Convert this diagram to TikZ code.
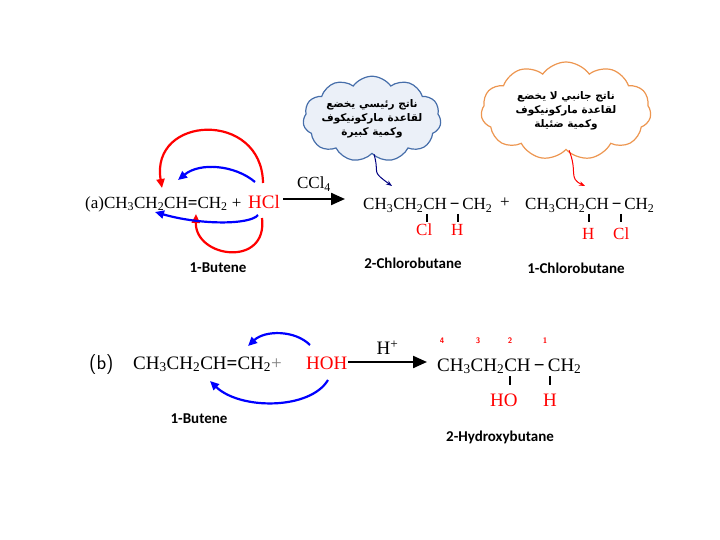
\documentclass[tikz,border=0pt]{standalone}
\usepackage{fontspec}
\setmainfont{Liberation Serif}
\newfontfamily\lblfont{Carlito}
\newfontfamily\arabicfont[Script=Arabic]{DejaVu Sans}
\TeXXeTstate=1
\usetikzlibrary{shapes.symbols,arrows.meta}
\begin{document}
\begin{tikzpicture}[x=1pt,y=-1pt,
  chem/.style={font=\fontsize{19}{19}\selectfont, inner sep=0pt, anchor=base west},
  lbl/.style={font=\lblfont\bfseries\fontsize{15}{15}\selectfont},
  redt/.style={text=red},
  cloudbox/.style={cloud, cloud puffs=11, cloud puff arc=110, aspect=1.9, line width=1.2pt, inner sep=-4pt,
     font=\arabicfont\bfseries\fontsize{10.5}{14}\selectfont, align=center},
  curly/.style={line width=2.2pt, -{Triangle[length=9pt,width=8pt]}},
  thin/.style={line width=1pt, -{Stealth[length=6pt]}},
  bigarrow/.style={line width=2.2pt, -{Triangle[length=14pt,width=12pt]}}]
\useasboundingbox (0,0) rectangle (720,540);
% (a)
\node[chem] (ra) at (85,208) {\fontsize{17}{17}\selectfont(a)CH\textsubscript{3}CH\textsubscript{2}CH\textbf{=}CH\textsubscript{2} +};
\node[chem,redt] (hcl) at (248,208) {HCl};
\coordinate (ch) at (162,188);
\coordinate (ch2) at (196,214);
\draw[bigarrow] (283,199) -- (345,199) node[midway,above=3pt,font=\fontsize{17}{17}\selectfont] (ccl) {CCl\textsubscript{4}};
\node[chem,font=\fontsize{17}{17}\selectfont] (p1) at (363,210) {CH\textsubscript{3}CH\textsubscript{2}CH\,\textbf{−}\,CH\textsubscript{2}};
\node[chem,redt,font=\fontsize{17}{17}\selectfont] (p1cl) at (416,236) {Cl};
\node[chem,redt,font=\fontsize{17}{17}\selectfont] (p1h) at (451,236) {H};
\draw[line width=1.2pt] (427,214) -- (427,222) (458,214) -- (458,222);
\node[font=\fontsize{17}{17}\selectfont] (plus) at (505,203) {+};
\node[chem,font=\fontsize{17}{17}\selectfont] (p2) at (525,210) {CH\textsubscript{3}CH\textsubscript{2}CH\,\textbf{−}\,CH\textsubscript{2}};
\node[chem,redt,font=\fontsize{17}{17}\selectfont] (p2h) at (582,240) {H};
\node[chem,redt,font=\fontsize{17}{17}\selectfont] (p2cl) at (613,240) {Cl};
\draw[line width=1.2pt] (589,214) -- (589,222) (621,214) -- (621,222);
% curly arrows (a)
\draw[red, curly] (263,183) .. controls (262,110) and (150,115) .. (ch);
\draw[red, curly] (262,218) .. controls (268,268) and (195,258) .. (ch2);
\draw[blue, curly] (255,182) .. controls (235,165) and (200,162) .. (178,180);
\draw[blue, curly] (258,215) .. controls (250,225) and (200,225) .. (155,212);
% clouds
\node[cloudbox, draw={rgb,255:red,70;green,110;blue,170}, fill={rgb,255:red,235;green,240;blue,248}, minimum width=138pt, minimum height=84pt] (c1) at (372,119)
 {\beginR ناتج رئيسي يخضع\endR\\\beginR لقاعدة ماركونيكوف\endR\\\beginR وكمية كبيرة\endR};
\node[cloudbox, draw={rgb,255:red,237;green,150;blue,80}, fill=white, minimum width=170pt, minimum height=98pt] (c2) at (566,111)
 {\beginR ناتج جانبي لا يخضع\endR\\\beginR لقاعدة ماركونيكوف\endR\\\beginR وكمية ضئيلة\endR};
\coordinate (t1) at (392,186);
\coordinate (t2) at (585,186);
\draw[blue!50!black, thin] (c1.south) ++(2,0) .. controls (380,175) and (370,170) .. (t1);
\draw[red, thin] (c2.south) ++(3,0) .. controls (578,172) and (568,178) .. (t2);
\node[lbl] (l1) at (218,268) {1-Butene};
\node[lbl] (l2) at (413,263) {2-Chlorobutane};
\node[lbl] (l3) at (576,268) {1-Chlorobutane};
% (b)
\node[chem,font=\sffamily\fontsize{20}{20}\selectfont] (rb) at (89,369) {(b)};
\node[chem] (rb2) at (133,369) {CH\textsubscript{3}CH\textsubscript{2}CH\textbf{=}CH\textsubscript{2}\textcolor{gray}{+}};
\node[chem,redt] (hoh) at (306,369) {HOH};
\draw[bigarrow] (348,362) -- (427,362) node[midway,above=3pt,font=\fontsize{19}{19}\selectfont] (hp) {H\textsuperscript{+}};
\node[chem] (pb) at (437,371) {CH\textsubscript{3}CH\textsubscript{2}CH\,\textbf{−}\,CH\textsubscript{2}};
\foreach \n/\x in {4/442,3/478,2/510,1/545}
  \node[red,font=\sffamily\bfseries\fontsize{8}{8}\selectfont] (n\n) at (\x,341) {\n};
\node[chem,redt] (pbho) at (490,406) {HO};
\node[chem,redt] (pbh) at (543,406) {H};
\draw[line width=1.5pt] (510,376) -- (510,385) (550,376) -- (550,385);
\coordinate (b1) at (248,346);
\coordinate (b2) at (210,381);
\draw[blue, curly] (310,345) .. controls (295,330) and (265,330) .. (b1);
\draw[blue, curly] (328,380) .. controls (310,410) and (240,410) .. (b2);
\node[lbl] (l4) at (199,419) {1-Butene};
\node[lbl] (l5) at (500,437) {2-Hydroxybutane};
\end{tikzpicture}
\end{document}
